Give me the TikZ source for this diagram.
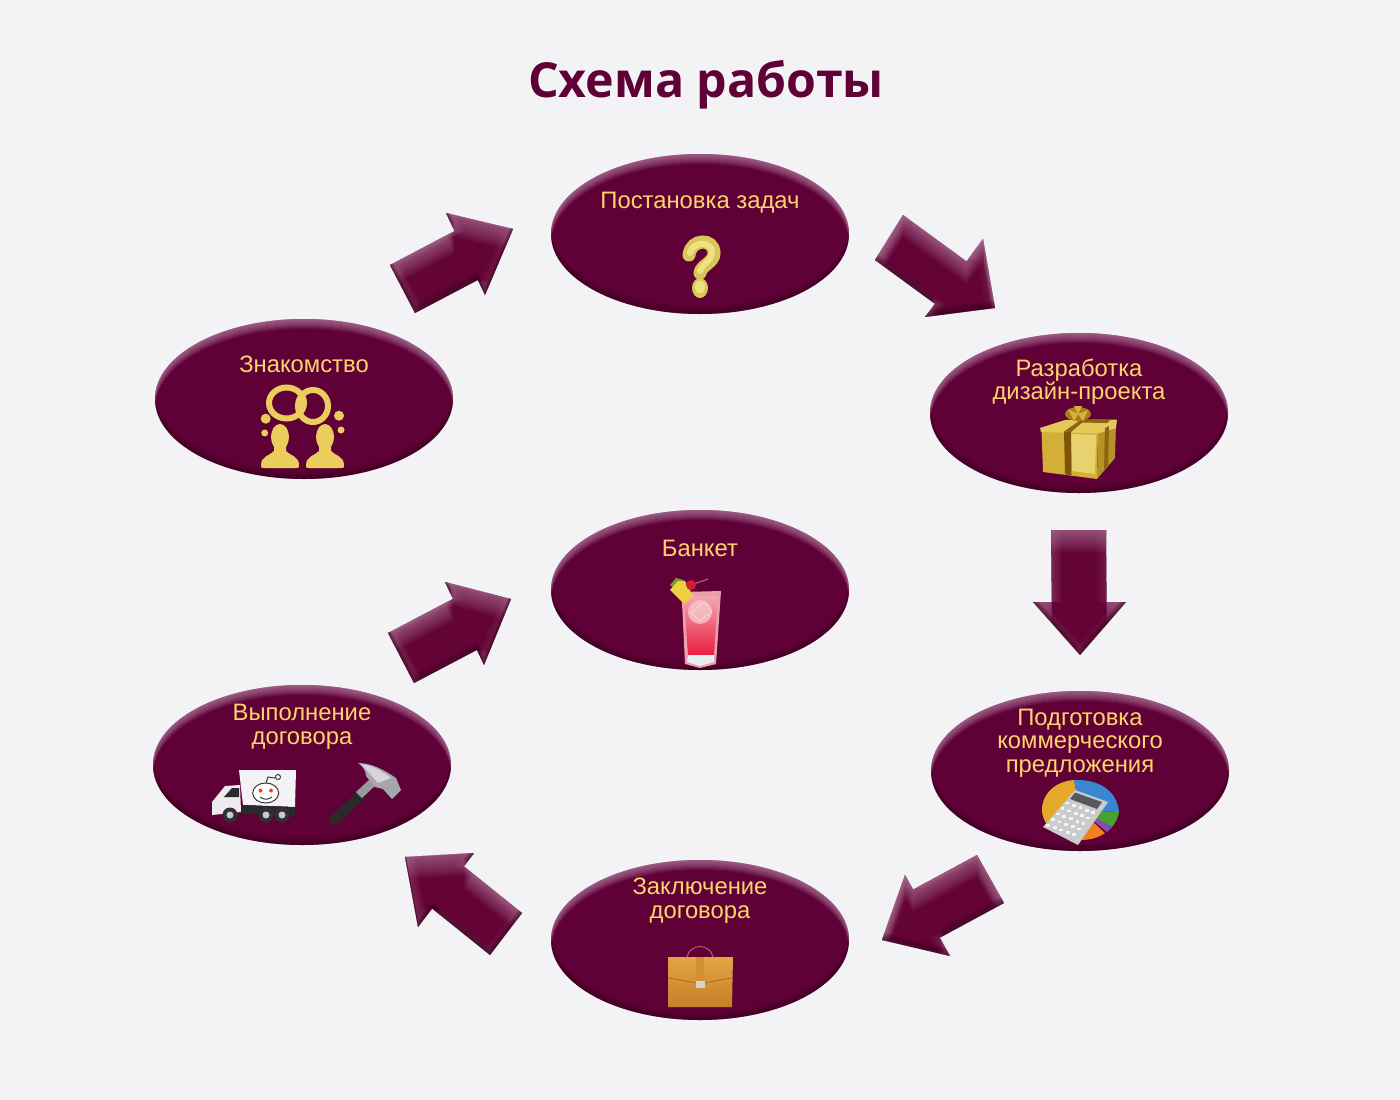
\documentclass[tikz,border=0pt]{standalone}
\usepackage{fontspec}
\setmainfont{Liberation Sans}
\newfontfamily\titlefont{Open Sans}
\usetikzlibrary{calc,shapes.geometric}
\definecolor{bgc}{HTML}{F3F2F5}
\definecolor{wine}{HTML}{5F0037}
\definecolor{winearrow}{HTML}{640436}
\definecolor{lite}{HTML}{C79AB8}
\definecolor{deep}{HTML}{2A0016}
\definecolor{gold}{HTML}{FFD36B}
\definecolor{icony}{HTML}{EBCD5E}
\makeatletter
\@for\hxname:=D4AF37,B8912A,E4C95A,E8D270,7D5408,8F6410,A87F1C,D9B23C,E9A0AE,F5A8B2,E81C40,E6EEF0,F6C6C8,F0D040,7A9A30,D06080,D02030,F4F2F4,EDEBEE,2A2A30,2A2A2E,303034,C9C9CC,3A3A3A,F04A10,2A2A2C,9A9A9E,A6A6AC,D6D6DA,E5A92A,3A86D0,4AA030,8A4AB0,F08020,C9CBCC,55585C,F4F4F4,C05A6A,C87F28,E2A444,A86A1E,D28E34,D8D4CC,D9C65A,EEE27C\do{%
  \definecolor{c\hxname}{HTML}{\hxname}}
\makeatother
\tikzset{
  x=1pt,y=-1pt,
  ovalnode/.style={ellipse,minimum width=298pt,minimum height=160pt,inner sep=0pt,fill=wine},
  captext/.style={text=gold,align=center,font=\fontsize{23.8}{23.5}\selectfont,inner sep=0pt},
  titletext/.style={text=wine,font=\titlefont\bfseries\fontsize{48.3}{50}\selectfont,inner sep=0pt},
  arrowbody/.style={fill=winearrow},
}
\newcommand{\beveloval}[3]{%
  \node[ovalnode] (#1) at (#2,#3) {};
  \begin{scope}
    \clip (#2,#3) ellipse [x radius=149,y radius=80];
    \foreach \d in {1,2,...,10}{
      \fill[lite,opacity=.085,even odd rule] (-100,-100) rectangle (1500,1200) (#2,#3+\d) ellipse [x radius=149,y radius=80];
    }
    \foreach \d in {1,2,...,8}{
      \fill[deep,opacity=.07,even odd rule] (-100,-100) rectangle (1500,1200) (#2,#3-\d) ellipse [x radius=149,y radius=80];
    }
  \end{scope}}
\newcommand{\shf}[1]{([shift={(\dx,\dy)}]#1)}
\newcommand{\polyarrow}{\shf{tp} -- \shf{ba} -- \shf{ja} -- \shf{ta} -- \shf{tb} -- \shf{jb} -- \shf{bb} -- cycle}
\newcommand{\blockarrow}[5]{%
  \coordinate (tp) at (#1); \coordinate (ba) at (#2); \coordinate (bb) at (#3);
  \coordinate (ta) at (#4); \coordinate (tb) at (#5);
  \coordinate (xa) at ($(ta)+(tp)-0.5*(ba)-0.5*(bb)$);
  \coordinate (xb) at ($(tb)+(tp)-0.5*(ba)-0.5*(bb)$);
  \coordinate (ja) at (intersection of ba--bb and ta--xa);
  \coordinate (jb) at (intersection of ba--bb and tb--xb);
  \begin{scope}
    \def\dx{0}\def\dy{0}
    \fill[arrowbody] \polyarrow;
    \clip \polyarrow;
    \foreach \d in {2,4,...,22}{
      \def\dx{0}\edef\dy{\d}
      \fill[lite,opacity=.06,even odd rule] (-100,-100) rectangle (1500,1200) \polyarrow;
    }
    \foreach \d in {2,4,...,10}{
      \def\dx{\d}\def\dy{0}
      \fill[lite,opacity=.05,even odd rule] (-100,-100) rectangle (1500,1200) \polyarrow;
      \edef\dx{-\d}
      \fill[lite,opacity=.03,even odd rule] (-100,-100) rectangle (1500,1200) \polyarrow;
    }
    \foreach \d in {1,2,...,8}{
      \def\dx{0}\edef\dy{-\d}
      \fill[deep,opacity=.09,even odd rule] (-100,-100) rectangle (1500,1200) \polyarrow;
    }
  \end{scope}}
\begin{document}
\begin{tikzpicture}
\useasboundingbox (0,0) rectangle (1400,1100);
\fill[bgc] (0,0) rectangle (1400,1100);
\node[titletext] (title) at (706,85) {Схема работы};

% ovals
\beveloval{task}{700}{234}
\beveloval{meet}{304}{399}
\beveloval{design}{1079}{413}
\beveloval{party}{700}{590}
\beveloval{exec}{302}{765}
\beveloval{offer}{1080}{771}
\beveloval{deal}{700}{940}

% block arrows
\blockarrow{513,229}{446,213}{485,295}{390,265}{415,313}
\blockarrow{995,308}{983,239}{925,317}{903,215}{875,260}
\blockarrow{1080,655}{1033,602}{1126,602}{1051,530}{1106,530}
\blockarrow{882,940}{905,875}{950,956}{977,855}{1004,903}
\blockarrow{405,857}{474,853}{418,927}{522,913}{490,955}
\blockarrow{511,599}{445,582}{484,665}{388,633}{414,683}

% captions
\node[captext] (t1) at (700,203) {Постановка задач};
\node[captext] (t2) at (304,364) {Знакомство};
\node[captext] (t3) at (1079,381.5) {Разработка\\дизайн-проекта};
\node[captext] (t4) at (700,548) {Банкет};
\node[captext] (t5) at (302,727) {Выполнение\\договора};
\node[captext] (t6) at (1080,743) {Подготовка\\коммерческого\\предложения};
\node[captext] (t7) at (700,900.5) {Заключение\\договора};

% question mark
\draw[cD9C65A,line width=13,line cap=round] (689,255) .. controls (691,238) and (714,238) .. (714,253) .. controls (714,263) and (701,265) .. (700,273);
\draw[cEEE27C,line width=6,line cap=round] (690,253) .. controls (692,241) and (712,241) .. (712,252) .. controls (712,261) and (701,265) .. (700,271);
\fill[cD9C65A] (700,288) ellipse [x radius=8,y radius=10];
\fill[cEEE27C] (700,287) ellipse [x radius=5,y radius=6.5];

% people with rings
\draw[icony,line width=6] (313,406) ellipse [x radius=15,y radius=16];
\draw[icony,line width=6] (286.5,403) ellipse [x radius=17.5,y radius=15.5];
\fill[icony] (265.7,418.7) circle (5) (264.7,433) circle (3.5) (339,415.7) circle (5) (341,430) circle (3.5);
\foreach \px in {280,325}{
  \fill[icony] (\px,437) ellipse [x radius=9,y radius=13];
  \fill[icony] (\px-6,445) -- (\px+6,445) -- (\px+6,451) .. controls (\px+9,455) and (\px+19,456) .. (\px+19,465)
     .. controls (\px+19,468) .. (\px+16,468) -- (\px-16,468) .. controls (\px-19,468) .. (\px-19,465)
     .. controls (\px-19,456) and (\px-9,455) .. (\px-6,451) -- cycle;
}

% gift
\fill[cD4AF37] (1041.5,431) -- (1098,433) -- (1097,479) -- (1043,472) -- cycle;
\fill[cB8912A] (1098,433) -- (1116,424) -- (1115,458) -- (1097,479) -- cycle;
\fill[cE4C95A] (1040,428) -- (1065,420) -- (1117,419.5) -- (1116,428) -- (1098,433.5) -- (1041,432) -- cycle;
\fill[cE8D270] (1071,434) -- (1096,435) -- (1095,474) -- (1072,471) -- cycle;
\fill[c7D5408] (1064,431.5) -- (1071,432) -- (1071.5,475) -- (1065,474.5) -- cycle;
\fill[c8F6410] (1105,428) -- (1109,426) -- (1108,465) -- (1104,470) -- cycle;
\fill[c8F6410] (1064,431.5) -- (1079,421) -- (1084,421) -- (1071,432) -- cycle;
\fill[c8F6410] (1079,419) -- (1110,420) -- (1107,423) -- (1078,422.5) -- cycle;
\fill[cA87F1C] (1078,414) ellipse [x radius=13,y radius=7];
\fill[cD9B23C] (1068,409) -- (1078,414) -- (1074,421) -- cycle (1088,410) -- (1078,414) -- (1083,421) -- cycle (1074,406) -- (1078,414) -- (1082,406) -- cycle;

% cocktail
\fill[cE9A0AE] (681.5,592) -- (721,591) -- (716,664) -- (700,668) -- (685,664) -- cycle;
\shade[top color=cF5A8B2,bottom color=cE81C40] (684,596) -- (718,596) -- (714,655) -- (688,655) -- cycle;
\fill[cE6EEF0] (688,655) -- (714,655) -- (714,662) -- (700,666) -- (687,662) -- cycle;
\fill[cF6C6C8,opacity=.8] (700,612) circle (12);
\draw[white,opacity=.7] (691,613) -- (704,602) -- (712,612) -- (700,621) -- cycle;
\fill[c7A9A30] (670,585) -- (676,578) -- (684,580) -- (677,590) -- cycle;
\fill[cF0D040] (670,590) -- (678,581) -- (685,581) -- (693,596) -- (684,604) -- cycle;
\draw[cD06080,line width=1] (691,585) -- (708,579);
\fill[cD02030] (691,585) circle (5);

% truck
\fill[cF4F2F4] (239,770) -- (296,770) -- (295,807) -- (243,805) -- cycle;
\fill[cEDEBEE] (212,802) -- (225,786) -- (240,785) -- (241,812) -- (212,815) -- cycle;
\fill[c2A2A30] (224,797) -- (232,788) -- (239,788) -- (239,797) -- cycle;
\fill[c2A2A2E] (243,805) -- (295,807) -- (295,815) -- (240,814) -- cycle;
\foreach \wx in {230,266,282}{
  \fill[c303034] (\wx,815) circle (7.5);
  \fill[cC9C9CC] (\wx,815) circle (3.5);
}
\draw[c3A3A3A,line width=1,fill=white] (265.7,793) ellipse [x radius=13,y radius=10];
\fill[cF04A10] (260.5,790.5) circle (2) (271,790.5) circle (2);
\draw[c3A3A3A,line width=1] (260,797) .. controls (264,800) and (268,800) .. (272,797);
\draw[c3A3A3A,line width=1] (266,783) -- (268,777) -- (275,778);
\draw[c3A3A3A,line width=1,fill=white] (278,777) circle (2.5);

% hammer
\draw[c2A2A2C,line width=10,line cap=round] (334,820) -- (361,795);
\fill[c9A9A9E] (356,792) -- (371,778) -- (376,785) -- (362,798) -- cycle;
\fill[cA6A6AC] (358,763) .. controls (372,763) and (384,770) .. (396,778) -- (401,790) -- (392,799) -- (383,789) -- (375,787) -- (366,776) .. controls (366,770) and (362,766) .. (358,763) -- cycle;
\fill[cD6D6DA] (361,764) .. controls (372,765) and (382,771) .. (391,778) -- (378,783) -- (370,774) -- cycle;

% calculator with pie chart
\fill[cE5A92A] (1080,810) -- (1074,780) .. controls (1055,781) and (1041,795) .. (1042,811) .. controls (1043,827) and (1058,838) .. (1080,840) -- cycle;
\fill[c3A86D0] (1080,810) -- (1074,780) .. controls (1098,779) and (1117,790) .. (1119,812) -- cycle;
\fill[c4AA030] (1080,810) -- (1119,812) .. controls (1118,818) and (1116,822) .. (1112,827) -- cycle;
\fill[c8A4AB0] (1080,810) -- (1112,827) -- (1107,832) -- cycle;
\fill[cF08020] (1080,810) -- (1105,833) .. controls (1098,838) and (1090,840) .. (1080,840) -- cycle;
\fill[cC9CBCC] (1075,790) -- (1108,802) -- (1078,845) -- (1043,827) -- cycle;
\fill[c55585C] (1075,792.5) -- (1102,802) -- (1097,809) -- (1070,799) -- cycle;
\foreach \u in {0.12,0.32,0.52,0.72,0.9}{
  \foreach \v in {0.32,0.47,0.62,0.77,0.92}{
    \fill[cF4F4F4] ($(1075,790)!\v!(1043,827)+\u*(33,12)+(-1.5,-0.5)$) ++(-1.8,-1.2) rectangle ++(3.8,2.8);
  }
}

% briefcase
\draw[cC05A6A,line width=1] (687,957) .. controls (690,943) and (710,943) .. (713,957);
\shade[top color=cE2A444,bottom color=cC87F28] (668,957) -- (733,957) -- (732,1007) -- (668,1007) -- cycle;
\draw[cA86A1E,line width=.8] (668,978) -- (700,983.5) -- (732,978);
\fill[cD28E34] (696,957) -- (704,957) -- (704,982) -- (696,982) -- cycle;
\fill[cD8D4CC] (696,981) rectangle (705,988);

\end{tikzpicture}
\end{document}
